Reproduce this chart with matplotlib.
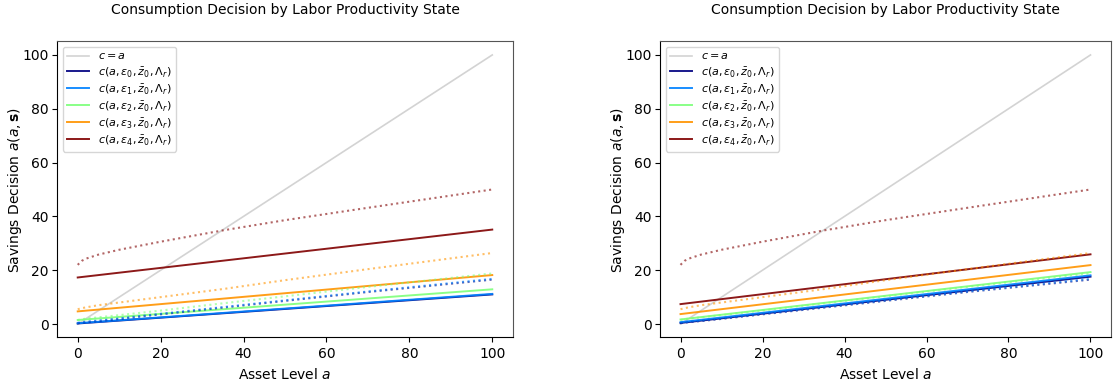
import numpy as np
import matplotlib
matplotlib.use("Agg")
from matplotlib import pyplot as plt

# asset grid where values were read
a_pts = [0, 100]
# solid lines: policy by productivity state (start, end)
left_solid = [
    [0.2, 11.0],
    [0.3, 11.2],
    [1.5, 12.9],
    [4.7, 18.2],
    [17.3, 35.1],
]
right_solid = [
    [0.4, 17.6],
    [0.7, 18.1],
    [1.7, 19.3],
    [3.7, 21.9],
    [7.4, 25.9],
]

# dotted benchmark lines (same in both panels)
a_dot = [0, 1, 2, 5, 10, 20, 35, 50, 70, 100]
dotted = [
    [0.3, 0.5, 0.7, 1.1, 1.9, 3.6, 6.1, 8.6, 11.9, 16.5],
    [0.5, 0.7, 0.9, 1.3, 2.1, 3.8, 6.3, 8.8, 12.1, 16.8],
    [1.5, 1.8, 2.0, 2.5, 3.3, 5.0, 7.7, 10.3, 13.8, 18.8],
    [5.5, 5.9, 6.2, 7.0, 8.0, 10.0, 13.0, 16.3, 20.4, 26.4],
    [22.0, 23.5, 24.3, 25.8, 27.6, 30.6, 34.8, 38.6, 43.2, 50.0],
]

colors = plt.cm.jet(np.linspace(0, 1, 5))
labels = [r"$c(a, \varepsilon_%d, \bar{z}_0, \Lambda_r)$" % i for i in range(5)]

fig = plt.figure(figsize=(11.13, 3.81), dpi=100)
ax1 = fig.add_axes([0.0512, 0.1142, 0.4097, 0.7769])
ax2 = fig.add_axes([0.593, 0.1142, 0.4052, 0.7769])

for ax, solid in [(ax1, left_solid), (ax2, right_solid)]:
    ax.plot([0, 100], [0, 100], color="lightgray", lw=1.2, label=r"$c = a$")
    for i in range(5):
        ax.plot(a_pts, solid[i], color=colors[i], lw=1.4, alpha=0.9, label=labels[i])
    for i in range(5):
        ax.plot(a_dot, dotted[i], color=colors[i], lw=1.5, ls=":", alpha=0.6)
    ax.set_title("Consumption Decision by Labor Productivity State", fontsize=10, pad=20)
    ax.set_xlabel(r"Asset Level $a$")
    ax.set_ylabel(r"Savings Decision $a(a, \mathbf{s})$", labelpad=-1)
    ax.tick_params(axis="y", pad=2.5)
    ax.legend(loc="upper left", fontsize=8, labelspacing=0.3)
    ax.spines["top"].set_color("#555555")
    ax.spines["right"].set_color("#555555")

plt.savefig("out.png", dpi=100)
